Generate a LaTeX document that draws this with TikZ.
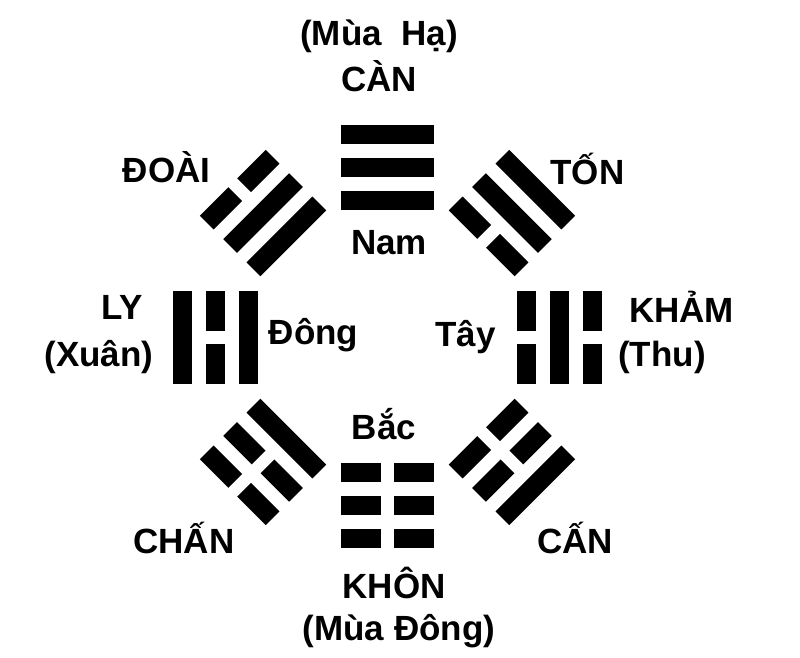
\documentclass[tikz,border=0pt]{standalone}
\usepackage{fontspec}
\setmainfont{Liberation Sans}
\usepackage{tikz}

% one trigram: angle, radius, lines from inner (bottom) to outer (top)
\newcommand{\trigram}[3]{%
  \begin{scope}[shift={(#1:#2)}, rotate=#1-90]
    \foreach \yao [count=\k] in {#3} {
      \pgfmathsetmacro{\ly}{(\k-2)*33}
      \ifnum\yao=1
        \fill (-46.5,\ly-9.75) rectangle (46.5,\ly+9.75);
      \else
        \fill (-46.5,\ly-9.75) rectangle (-6.25,\ly+9.75);
        \fill (6.25,\ly-9.75) rectangle (46.5,\ly+9.75);
      \fi
    }
  \end{scope}}

\begin{document}
\begin{tikzpicture}[x=1pt, y=1pt]
\tikzstyle{lbl} = [font=\fontsize{35}{40}\selectfont\bfseries, anchor=base, inner sep=0pt]
\useasboundingbox (-387.5,-320.5) rectangle (412.5,337.5);

\trigram{90}{170}{1,1,1}
\trigram{45}{176}{0,1,1}
\trigram{0}{172}{0,1,0}
\trigram{-45}{176}{0,0,1}
\trigram{-90}{168}{0,0,0}
\trigram{-135}{176}{1,0,0}
\trigram{180}{172}{1,0,1}
\trigram{135}{176}{1,1,0}

\node[lbl] (ha) at (-8.5,291.5) {(Mùa\ \ Hạ)};
\node[lbl] (can) at (-8.5,245.5) {CÀN};
\node[lbl] (nam) at (1.5,82.5) {Nam};
\node[lbl] (doai) at (-221,154.5) {ĐOÀI};
\node[lbl] (ton) at (200,152.5) {TỐN};
\node[lbl] (ly) at (-265,17.5) {LY};
\node[lbl] (xuan) at (-288.5,-29.5) {(Xuân)};
\node[lbl] (dong) at (-74,-7.5) {Đông};
\node[lbl] (tay) at (78,-9.5) {Tây};
\node[lbl] (kham) at (294,14.5) {KHẢM};
\node[lbl] (thu) at (274.5,-29.5) {(Thu)};
\node[lbl] (bac) at (-3.5,-102.5) {Bắc};
\node[lbl] (chan) at (-203.5,-215.5) {CHẤN};
\node[lbl] (cann) at (187.5,-215.5) {CẤN};
\node[lbl] (khon) at (6.5,-260.5) {KHÔN};
\node[lbl] (donggc) at (11.5,-302.5) {(Mùa Đông)};
\end{tikzpicture}
\end{document}
